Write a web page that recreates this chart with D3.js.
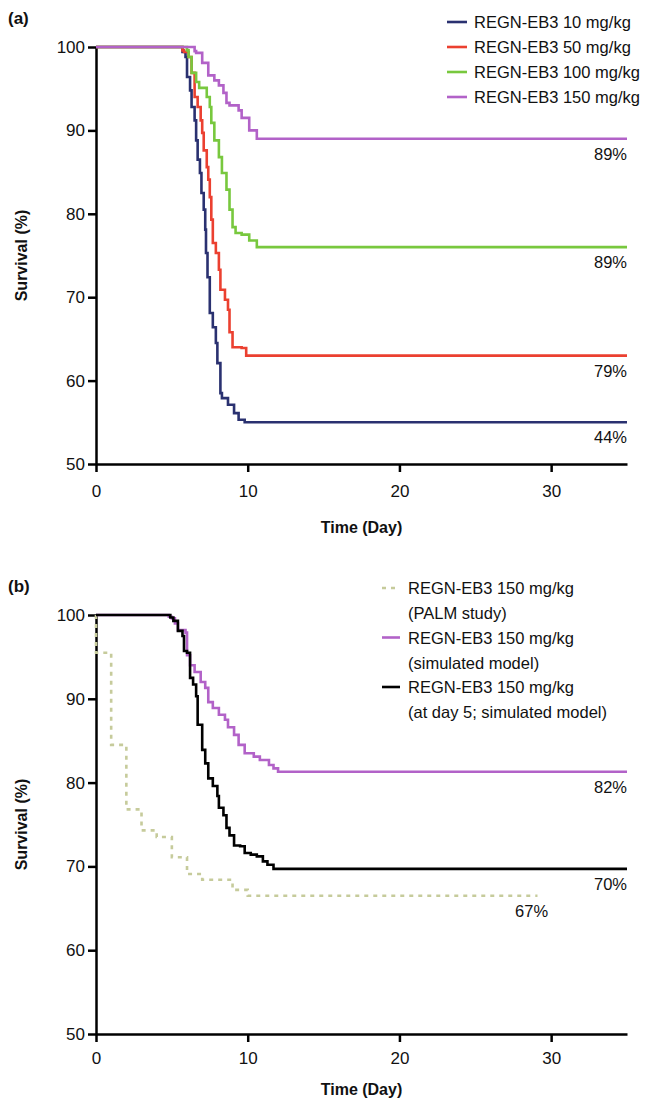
<!DOCTYPE html>
<html>
<head>
<meta charset="utf-8">
<script src="https://cdn.jsdelivr.net/npm/d3@7"></script>
<style>
  body { margin: 0; background: #fff; }
  svg text { font-family: 'Liberation Sans', Arial, sans-serif; fill: #111; }
</style>
</head>
<body>
<div id="chart"></div>
<script>
// panel (a) survival curves (day, survival %)
const timeA10 = [0, 5.7, 5.9, 6.0, 6.2, 6.3, 6.5, 6.6, 6.7, 6.85, 6.95, 7.1, 7.2, 7.25, 7.35, 7.5, 7.7, 7.9, 8.0, 8.2, 8.3, 8.7, 9.1, 9.4, 9.8, 35];
const survA10 = [100, 99.4, 98.8, 96.4, 94.8, 92.8, 91.2, 88.8, 86.5, 84.9, 82.5, 80.5, 78.1, 75.3, 72.4, 68.1, 66.4, 64.5, 62.1, 58.5, 57.9, 57.1, 56.1, 55.3, 55, 55];
const timeA50 = [0, 5.7, 5.8, 6.1, 6.3, 6.5, 6.7, 6.9, 7.0, 7.1, 7.3, 7.4, 7.5, 7.6, 7.7, 7.9, 8.1, 8.2, 8.5, 8.7, 8.8, 9.0, 9.6, 9.9, 35];
const survA50 = [100, 99.6, 99.4, 98.8, 96.9, 94.0, 92.8, 91.2, 89.7, 87.6, 85.6, 84.1, 82.0, 79.3, 76.5, 75.3, 73.3, 70.9, 69.7, 68.5, 65.8, 64.0, 63.9, 63, 63];
const timeA100 = [0, 6.0, 6.1, 6.3, 6.6, 6.8, 7.3, 7.5, 7.6, 7.8, 8.1, 8.3, 8.6, 8.8, 9.0, 9.2, 9.6, 10.1, 10.6, 35];
const survA100 = [100, 99.6, 98.8, 96.9, 95.8, 95.1, 94.0, 92.8, 90.9, 88.8, 86.8, 84.9, 82.9, 80.5, 78.4, 77.7, 77.5, 76.8, 76, 76];
const timeA150 = [0, 6.5, 6.6, 7.0, 7.4, 7.8, 8.1, 8.4, 8.6, 8.8, 9.4, 9.6, 10.1, 10.6, 35];
const survA150 = [100, 99.5, 99.3, 98.1, 96.6, 96.0, 95.4, 94.5, 93.3, 93.0, 92.4, 91.5, 90.0, 89, 89];

// panel (b)
const timePalm = [0, 0, 1, 2, 3, 4, 5, 6, 7, 9, 10, 29.1];
const survPalm = [100, 95.5, 84.5, 76.8, 74.3, 73.5, 71.1, 69.1, 68.4, 67.2, 66.5, 66.5];
const timeSim = [0, 4.8, 5.0, 5.2, 5.4, 5.9, 6.0, 6.2, 6.5, 6.9, 7.2, 7.4, 7.7, 8.1, 8.5, 8.7, 9.1, 9.4, 9.8, 10.4, 10.8, 11.4, 11.7, 12.0, 35];
const survSim = [100, 99.8, 99.6, 99.0, 98.2, 97.9, 95.2, 94.0, 93.2, 92.0, 91.3, 89.6, 88.9, 88.1, 87.5, 86.6, 85.7, 84.5, 83.5, 83.1, 82.7, 82.1, 81.7, 81.3, 81.3];
const timeDay5 = [0, 4.9, 5.1, 5.4, 5.7, 5.8, 6.0, 6.2, 6.4, 6.6, 6.7, 7.0, 7.2, 7.4, 7.7, 8.0, 8.1, 8.4, 8.6, 8.8, 9.1, 9.5, 9.8, 10.2, 10.6, 11.0, 11.3, 11.7, 35];
const survDay5 = [100, 99.7, 99.3, 98.1, 97.5, 95.7, 95.5, 92.5, 91.7, 90.3, 86.9, 83.9, 82.3, 80.5, 79.6, 78.4, 77.0, 76.1, 74.6, 73.7, 72.5, 72.4, 71.6, 71.4, 71.2, 70.6, 70.2, 69.7, 69.7];

const xTicks = [0, 10, 20, 30];
const yTicks = [50, 60, 70, 80, 90, 100];

const legendA = ['REGN-EB3 10 mg/kg', 'REGN-EB3 50 mg/kg', 'REGN-EB3 100 mg/kg', 'REGN-EB3 150 mg/kg'];
const legendB = [
  ['REGN-EB3 150 mg/kg', '(PALM study)'],
  ['REGN-EB3 150 mg/kg', '(simulated model)'],
  ['REGN-EB3 150 mg/kg', '(at day 5; simulated model)'],
];
const endLabelsA = ['89%', '89%', '79%', '44%'];
const endLabelsB = ['82%', '70%', '67%'];

const navy = '#2a3170';
const red = '#eb4030';
const green = '#78c83e';
const purple = '#b262c8';
const tan = '#c6cb9b';

const svg = d3.select('#chart').append('svg')
  .attr('width', 648)
  .attr('height', 1105);

/* Method to append one panel with axes and titles
   Params: @top is the pixel row of survival 100, @bottom of survival 50
           @tickPad is the gap under the x ticks, @titleOffset the baseline of the x title
*/
function AppendPanel(top, bottom, letter, tickPad, titleOffset) {
  const x = d3.scaleLinear().domain([0, 35]).range([96, 627]);
  const y = d3.scaleLinear().domain([50, 100]).range([bottom, top]);
  const g = svg.append('g');

  const yAxis = g.append('g')
    .attr('transform', 'translate(96,0)')
    .call(d3.axisLeft(y).tickValues(yTicks).tickSize(8).tickSizeOuter(0).tickPadding(3));
  const xAxis = g.append('g')
    .attr('transform', `translate(0,${bottom})`)
    .call(d3.axisBottom(x).tickValues(xTicks).tickSize(8).tickSizeOuter(0).tickPadding(tickPad));
  [xAxis, yAxis].forEach((a) => {
    a.select('.domain').attr('stroke', '#000').attr('stroke-width', 2.5);
    a.selectAll('.tick line').attr('stroke', '#000').attr('stroke-width', 2.5);
    a.selectAll('.tick text').style('font-size', '17px').attr('fill', '#111');
  });

  g.append('text')
    .attr('transform', `translate(27,${(top + bottom) / 2}) rotate(-90)`)
    .attr('text-anchor', 'middle')
    .style('font-size', '16px')
    .style('font-weight', 'bold')
    .text('Survival (%)');
  g.append('text')
    .attr('x', x(17.5))
    .attr('y', bottom + titleOffset)
    .attr('text-anchor', 'middle')
    .style('font-size', '16px')
    .style('font-weight', 'bold')
    .text('Time (Day)');
  g.append('text')
    .attr('x', 8)
    .attr('y', top - 23)
    .style('font-size', '17px')
    .style('font-weight', 'bold')
    .text(letter);
  return { g, x, y };
}

function AppendCurve(panel, times, surv, color, dash) {
  const line = d3.line()
    .x((d) => panel.x(d[0]))
    .y((d) => panel.y(d[1]))
    .curve(d3.curveStepAfter);
  panel.g.append('path')
    .datum(d3.zip(times, surv))
    .attr('fill', 'none')
    .attr('stroke', color)
    .attr('stroke-width', 2.6)
    .attr('stroke-dasharray', dash || null)
    .attr('d', line);
}

function AppendEndLabel(panel, text, xDay, value) {
  panel.g.append('text')
    .attr('x', panel.x(xDay))
    .attr('y', panel.y(value) + 21)
    .attr('text-anchor', 'end')
    .style('font-size', '16.5px')
    .text(text);
}

// panel (a)
const panelA = AppendPanel(47, 464, '(a)', 13, 69);
const colorsA = [navy, red, green, purple];
AppendCurve(panelA, timeA10, survA10, navy);
AppendCurve(panelA, timeA50, survA50, red);
AppendCurve(panelA, timeA100, survA100, green);
AppendCurve(panelA, timeA150, survA150, purple);
[89, 76, 63, 55].forEach((v, i) => AppendEndLabel(panelA, endLabelsA[i], 35, v));

legendA.forEach((label, i) => {
  const ly = 22 + i * 25;
  svg.append('line')
    .attr('x1', 447).attr('x2', 467)
    .attr('y1', ly).attr('y2', ly)
    .attr('stroke', colorsA[i])
    .attr('stroke-width', 2.6);
  svg.append('text')
    .attr('x', 474)
    .attr('y', ly + 6)
    .style('font-size', '16.5px')
    .text(label);
});

// panel (b)
const panelB = AppendPanel(615, 1034, '(b)', 10, 61);
AppendCurve(panelB, timePalm, survPalm, tan, '4,5');
AppendCurve(panelB, timeSim, survSim, purple);
AppendCurve(panelB, timeDay5, survDay5, '#000');
AppendEndLabel(panelB, endLabelsB[0], 35, 81.3);
AppendEndLabel(panelB, endLabelsB[1], 35, 69.7);
AppendEndLabel(panelB, endLabelsB[2], 29.8, 66.5);

const colorsB = [tan, purple, '#000'];
legendB.forEach((lines, i) => {
  const ly = 588 + i * 49.5;
  svg.append('line')
    .attr('x1', 382).attr('x2', 400)
    .attr('y1', ly).attr('y2', ly)
    .attr('stroke', colorsB[i])
    .attr('stroke-width', 2.6)
    .attr('stroke-dasharray', i === 0 ? '4,5' : null);
  lines.forEach((t, j) => {
    svg.append('text')
      .attr('x', 408)
      .attr('y', ly + 6 + j * 25)
      .style('font-size', '16.5px')
      .text(t);
  });
});
</script>
</body>
</html>
